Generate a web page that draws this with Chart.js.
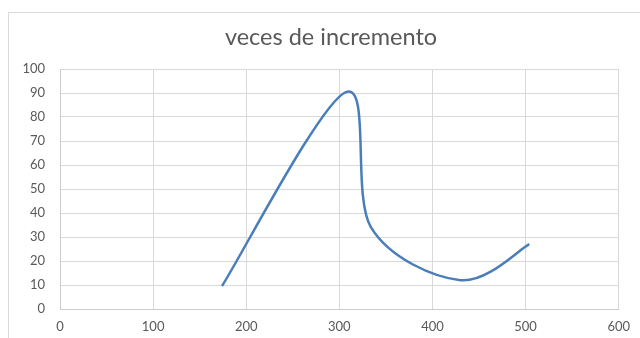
<!DOCTYPE html>
<html>
<head>
<meta charset="utf-8">
<script src="https://cdn.jsdelivr.net/npm/chart.js@4/dist/chart.umd.min.js"></script>
<style>
  html, body { margin: 0; padding: 0; background: #ffffff; overflow: hidden; }
  #wrap { width: 640px; height: 338px; position: relative; }
</style>
</head>
<body>
<div id="wrap"><canvas id="c" width="640" height="338"></canvas></div>
<script>
// Series: measured points (x, veces de incremento)
const chartTitle = 'veces de incremento';
const xValues = [174, 307, 334, 430, 504];
const yValues = [9.6, 90.4, 34, 12, 27];

// Axis ticks
const xTicks = [0, 100, 200, 300, 400, 500, 600];
const yTicks = [0, 10, 20, 30, 40, 50, 60, 70, 80, 90, 100];

const points = xValues.map((x, i) => ({ x: x, y: yValues[i] }));

const textColor = '#595959';
const gridColor = '#d9d9d9';
const fontFamily = 'Lato, "Open Sans", sans-serif';

// Light frame around the whole chart object, plus the centred title
const frame = {
  id: 'frame',
  beforeDraw(chart) {
    const ctx = chart.ctx;
    ctx.save();
    ctx.strokeStyle = '#d9d9d9';
    ctx.lineWidth = 1;
    ctx.strokeRect(8.5, 12.5, 700, 400);
    ctx.fillStyle = textColor;
    ctx.font = '23.5px ' + fontFamily;
    ctx.textAlign = 'center';
    ctx.textBaseline = 'alphabetic';
    ctx.fillText(chartTitle, 331, 45);
    ctx.restore();
  }
};

// Office-style smoothing: each control point sits 1/6 of the
// neighbour-to-neighbour chord away from its point.
const officeSmooth = {
  id: 'officeSmooth',
  beforeDatasetsDraw(chart) {
    chart.data.datasets.forEach((ds, di) => {
      const meta = chart.getDatasetMeta(di);
      if (!meta.dataset) return;
      meta.dataset.updateControlPoints(chart.chartArea, 'x');
      const pts = meta.data;
      for (let i = 0; i < pts.length; i++) {
        const p = pts[i];
        const prev = pts[i - 1] || p;
        const next = pts[i + 1] || p;
        const dx = (next.x - prev.x) / 6;
        const dy = (next.y - prev.y) / 6;
        p.cp1x = p.x - dx; p.cp1y = p.y - dy;
        p.cp2x = p.x + dx; p.cp2y = p.y + dy;
      }
    });
  }
};

new Chart(document.getElementById('c'), {
  type: 'line',
  data: {
    datasets: [{
      label: chartTitle,
      data: points,
      borderColor: '#4A7EBB',
      borderWidth: 2.5,
      pointRadius: 0,
      fill: false,
      tension: 0.4
    }]
  },
  options: {
    responsive: false,
    animation: false,
    devicePixelRatio: 1,
    layout: { padding: { left: 0, right: 20, top: 69, bottom: 0 } },
    plugins: {
      legend: { display: false },
      tooltip: { enabled: false },
      title: { display: false }
    },
    scales: {
      x: {
        type: 'linear',
        min: xTicks[0],
        max: xTicks[xTicks.length - 1],
        afterBuildTicks: s => { s.ticks = xTicks.map(v => ({ value: v })); },
        afterFit: s => { s.height = 29; },
        grid: { color: gridColor, drawTicks: false },
        border: { display: true, color: '#cccccc' },
        ticks: { color: textColor, padding: 10, maxRotation: 0, font: { family: fontFamily, size: 13 } }
      },
      y: {
        type: 'linear',
        min: yTicks[0],
        max: yTicks[yTicks.length - 1],
        afterBuildTicks: s => { s.ticks = yTicks.map(v => ({ value: v })); },
        afterFit: s => { s.width = 60; },
        grid: { color: gridColor, drawTicks: false },
        border: { display: true, color: '#cccccc' },
        ticks: { color: textColor, padding: 15, font: { family: fontFamily, size: 13 } }
      }
    }
  },
  plugins: [frame, officeSmooth]
});
</script>
</body>
</html>
